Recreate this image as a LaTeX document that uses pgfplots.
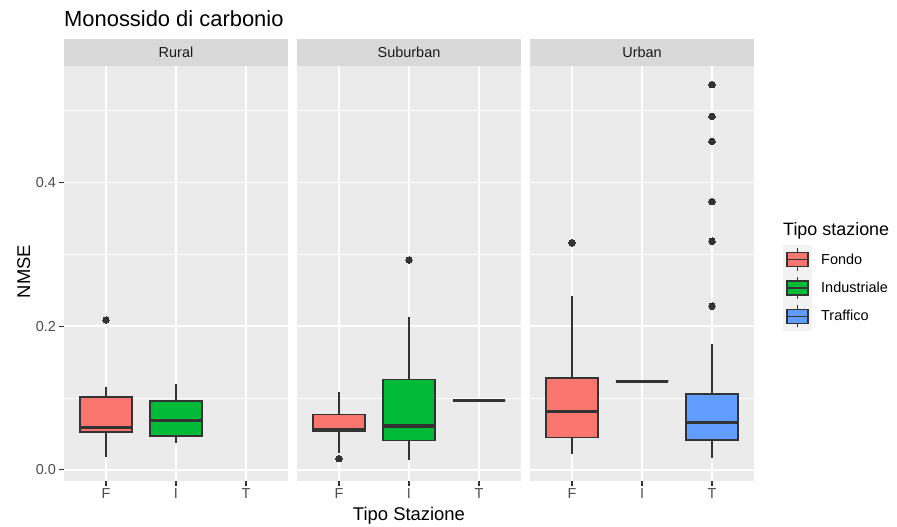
\documentclass[border=0pt]{standalone}
\usepackage{pgfplots}
\pgfplotsset{compat=1.18}
\usepgfplotslibrary{statistics}
\usepackage{fontspec}
\setmainfont{Liberation Sans}

\definecolor{fondo}{HTML}{F8766D}
\definecolor{industriale}{HTML}{00BA38}
\definecolor{traffico}{HTML}{619CFF}
\definecolor{panelbg}{HTML}{EBEBEB}
\definecolor{stripbg}{HTML}{D9D9D9}
\definecolor{grey20}{HTML}{333333}
\definecolor{grey30}{HTML}{4D4D4D}
\definecolor{grey10}{HTML}{1A1A1A}
\definecolor{keybg}{HTML}{F2F2F2}

\pgfplotsset{
  facet/.style={
    scale only axis, width=224bp, height=415bp,
    enlargelimits=false,
    xmin=0.4, xmax=3.6, ymin=-0.01545, ymax=0.56195,
    axis background/.style={fill=panelbg},
    axis line style={draw=none},
    xtick={1,2,3}, xticklabels={F,I,T},
    ytick={0,0.2,0.4}, yticklabels={0.0,0.2,0.4},
    minor ytick={0.1,0.3,0.5},
    xmajorgrids, ymajorgrids, yminorgrids,
    major grid style={white, line width=1.7bp},
    minor grid style={white, line width=0.85bp},
    tick align=outside, major tick length=4.5bp, minor tick length=0pt,
    tick style={grey20, line width=1.1bp},
    xtick pos=left, ytick pos=left,
    ticklabel style={font=\fontsize{14.5}{17}\selectfont, text=grey30},
    every axis title shift=0pt,
    title style={at={(0.5,1)}, anchor=south, yshift=0pt, fill=stripbg,
      minimum width=224bp, minimum height=26.7bp, inner sep=0pt,
      font=\fontsize{14.5}{17}\selectfont, text=grey10},
    boxplot/draw direction=y,
    boxplot/box extend=0.75,
    boxplot/whisker extend=0,
  },
  ggbox/.style={draw=grey20, fill=#1, line width=1.6bp, solid,
    mark=*, mark size=3.3bp,
    mark options={fill=grey20, draw=grey20, line width=0pt},
    boxplot/every median/.style={line width=3.2bp}},
  boxkey/.style={legend image code/.code={
    \fill[keybg] (0bp,-14bp) rectangle (28bp,14bp);
    \draw[##1] (14bp,-11.2bp) -- (14bp,11.2bp);
    \draw[##1] (3.5bp,-7bp) rectangle (24.5bp,7bp);
    \draw[##1] (3.5bp,0bp) -- (24.5bp,0bp);
  }},
}

\begin{document}
\begin{tikzpicture}
\path[use as bounding box] (0,0) rectangle (897bp,527bp);

% Rural
\begin{axis}[facet, at={(64bp,46bp)}, anchor=south west, title={Rural}]
\addplot[ggbox=fondo, boxplot prepared={draw position=1,
  lower whisker=0.0184, lower quartile=0.0526, median=0.0587,
  upper quartile=0.1018, upper whisker=0.1152}]
  coordinates {(0,0.2084)};
\addplot[ggbox=industriale, boxplot prepared={draw position=2,
  lower whisker=0.0374, lower quartile=0.0468, median=0.0692,
  upper quartile=0.0959, upper whisker=0.1190}]
  coordinates {};
\end{axis}

% Suburban
\begin{axis}[facet, at={(297bp,46bp)}, anchor=south west, title={Suburban},
  yticklabels={}, ytick style={draw=none}]
\addplot[ggbox=fondo, boxplot prepared={draw position=1,
  lower whisker=0.0239, lower quartile=0.0540, median=0.0555,
  upper quartile=0.0772, upper whisker=0.1078}]
  coordinates {(0,0.0156)};
\addplot[ggbox=industriale, boxplot prepared={draw position=2,
  lower whisker=0.0132, lower quartile=0.0410, median=0.0610,
  upper quartile=0.1259, upper whisker=0.2130}]
  coordinates {(0,0.2920)};
\addplot[ggbox=traffico, boxplot prepared={draw position=3,
  lower whisker=0.0964, lower quartile=0.0964, median=0.0964,
  upper quartile=0.0964, upper whisker=0.0964}]
  coordinates {};
\end{axis}

% Urban
\begin{axis}[facet, at={(530bp,46bp)}, anchor=south west, title={Urban},
  yticklabels={}, ytick style={draw=none},
  legend style={at={(axis description cs:1.129,0.5687)}, anchor=north west,
    draw=none, fill=none, inner sep=0pt, outer sep=0pt,
    row sep=-1bp, column sep=9bp,
    font=\fontsize{14.5}{17}\selectfont, nodes={inner sep=0pt}},
  legend cell align=left]
\addlegendimage{boxkey, draw=grey20, fill=fondo, line width=1.3bp}
\addlegendentry{Fondo}
\addlegendimage{boxkey, draw=grey20, fill=industriale, line width=1.3bp}
\addlegendentry{Industriale}
\addlegendimage{boxkey, draw=grey20, fill=traffico, line width=1.3bp}
\addlegendentry{Traffico}
\addplot[ggbox=fondo, boxplot prepared={draw position=1,
  lower whisker=0.0215, lower quartile=0.0449, median=0.0810,
  upper quartile=0.1277, upper whisker=0.2414}]
  coordinates {(0,0.3160)};
\addplot[ggbox=industriale, boxplot prepared={draw position=2,
  lower whisker=0.1235, lower quartile=0.1235, median=0.1235,
  upper quartile=0.1235, upper whisker=0.1235}]
  coordinates {};
\addplot[ggbox=traffico, boxplot prepared={draw position=3,
  lower whisker=0.0168, lower quartile=0.0412, median=0.0664,
  upper quartile=0.1057, upper whisker=0.1745}]
  coordinates {(0,0.2278) (0,0.3181) (0,0.3733) (0,0.4571) (0,0.4918) (0,0.5360)};
\end{axis}

% titles and legend heading
\node[anchor=base west, inner sep=0pt, font=\fontsize{22}{26}\selectfont]
  at (64bp,500.5bp) {Monossido di carbonio};
\node[anchor=base, inner sep=0pt, font=\fontsize{18.5}{22}\selectfont]
  at (409bp,7bp) {Tipo Stazione};
\node[anchor=base, rotate=90, inner sep=0pt, font=\fontsize{18.5}{22}\selectfont]
  at (30bp,255.5bp) {NMSE};
\node[anchor=base west, inner sep=0pt, font=\fontsize{18}{22}\selectfont]
  at (783bp,291.5bp) {Tipo stazione};
\end{tikzpicture}
\end{document}
